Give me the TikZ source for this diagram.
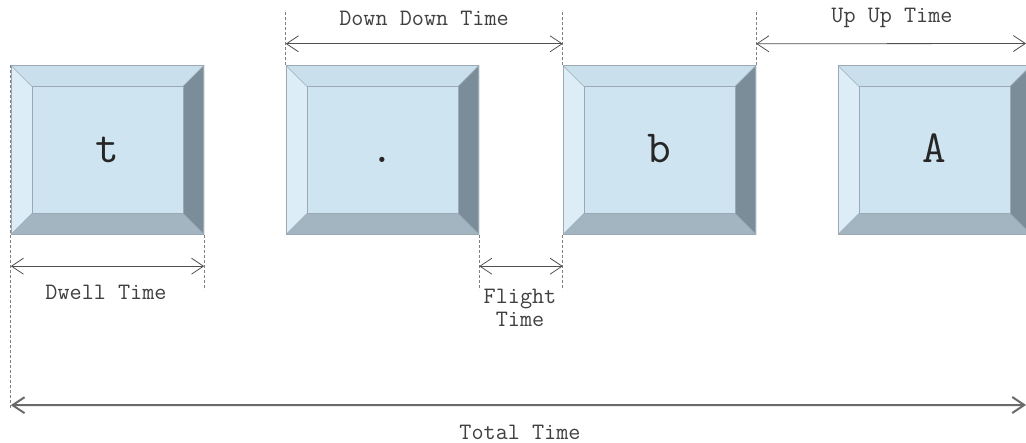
\documentclass[tikz,border=0pt]{standalone}
\usetikzlibrary{arrows.meta,calc}
\definecolor{ktop}{HTML}{C9DFEC}
\definecolor{kleft}{HTML}{DDEDF7}
\definecolor{kface}{HTML}{CFE4F1}
\definecolor{kright}{HTML}{7B8D98}
\definecolor{kbottom}{HTML}{A4B5C2}
\definecolor{kedge}{HTML}{9AA9B3}
\definecolor{txt}{HTML}{404040}
\definecolor{arr}{HTML}{505050}
\begin{document}
\begin{tikzpicture}[x=1pt,y=-1pt,
  keycap/.style={minimum width=193pt,minimum height=169pt,inner sep=0pt,
    text height=26pt,text depth=0pt,font=\ttfamily\fontsize{46}{46}\selectfont,text=black!85,
    path picture={
      \coordinate (NW) at (path picture bounding box.north west);
      \coordinate (NE) at (path picture bounding box.north east);
      \coordinate (SW) at (path picture bounding box.south west);
      \coordinate (SE) at (path picture bounding box.south east);
      \coordinate (iNW) at ($(NW)+(21,21)$);
      \coordinate (iNE) at ($(NE)+(-21,21)$);
      \coordinate (iSW) at ($(SW)+(21,-21)$);
      \coordinate (iSE) at ($(SE)+(-21,-21)$);
      \fill[kface] (iNW) rectangle (iSE);
      \fill[ktop] (NW) -- (NE) -- (iNE) -- (iNW) -- cycle;
      \fill[kleft] (NW) -- (iNW) -- (iSW) -- (SW) -- cycle;
      \fill[kright] (NE) -- (SE) -- (iSE) -- (iNE) -- cycle;
      \fill[kbottom] (SW) -- (iSW) -- (iSE) -- (SE) -- cycle;
      \draw[kedge,line width=1.2pt] (NW) rectangle (SE);
      \draw[kedge,line width=0.6pt] (iNW) rectangle (iSE);
      \draw[kedge,line width=0.5pt] (NW) -- (iNW) (NE) -- (iNE) (SW) -- (iSW) (SE) -- (iSE);
    }},
  dim/.style={arr,line width=0.8pt,{Straight Barb[length=12pt,width=16pt]}-{Straight Barb[length=12pt,width=16pt]}},
  guide/.style={gray,line width=0.7pt,dash pattern=on 3pt off 2pt},
  lbl/.style={text=txt,font=\ttfamily\fontsize{23.5}{23}\selectfont,inner sep=0pt,align=center}
]
\useasboundingbox (0,0) rectangle (1026,443);
\node[keycap] (k1) at (107.5,150) {t};
\node[keycap] (k2) at (382.5,150) {.};
\node[keycap] (k3) at (659.5,150) {b};
\node[keycap] (k4) at (934.5,150) {A};

% guide coordinates
\coordinate (g2t) at ($(k2.north west)+(0,-55)$);
\coordinate (g3t) at ($(k3.north west)+(0,-55)$);
\coordinate (g4t) at ($(k3.north east)+(0,-55)$);
\coordinate (g1b) at ($(k1.south west)+(0,175)$);
\coordinate (g1r) at ($(k1.south east)+(0,55)$);
\coordinate (g2r) at ($(k2.south east)+(0,55)$);
\coordinate (g3l) at ($(k3.south west)+(0,55)$);

\draw[guide] (k2.north west) -- (g2t);
\draw[guide] (k3.north west) -- (g3t);
\draw[guide] (k3.north east) -- (g4t);
\draw[guide] (k1.north west) -- (g1b);
\draw[guide] (k1.south east) -- (g1r);
\draw[guide] (k2.south east) -- (g2r);
\draw[guide] (k3.south west) -- (g3l);

% dimension end points
\coordinate (dd1) at ($(k2.north west)+(0,-21.5)$);
\coordinate (dd2) at ($(k3.north west)+(0,-21.5)$);
\coordinate (uu1) at ($(k3.north east)+(0,-21.5)$);
\coordinate (uu2) at (1026,43.5);
\coordinate (dw1) at ($(k1.south west)+(0,31.5)$);
\coordinate (dw2) at ($(k1.south east)+(0,31.5)$);
\coordinate (fl1) at ($(k2.south east)+(0,31.5)$);
\coordinate (fl2) at ($(k3.south west)+(0,31.5)$);
\coordinate (tt1) at ($(k1.south west)+(0,170.5)$);
\coordinate (tt2) at (1026,405);

\draw[dim] (dd1) -- (dd2);
\draw[dim] (uu1) -- (uu2);
\draw[dim] (dw1) -- (dw2);
\draw[dim] (fl1) -- (fl2);
\draw[dim,line width=2pt,arr!85] (tt1) -- (tt2);

\node[lbl] (ddl) at (424,18) {Down Down Time};
\node[lbl] (uul) at (892,18) {Up Up Time};
\node[lbl] (dwl) at (106,292) {Dwell Time};
\node[lbl] (fll) at (520,308) {Flight\\Time};
\node[lbl] (ttl) at (520,432) {Total Time};
\end{tikzpicture}
\end{document}
